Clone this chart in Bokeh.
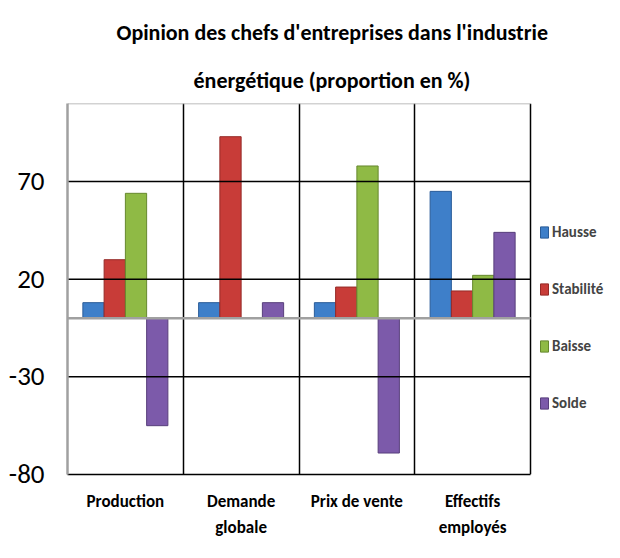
from bokeh.plotting import figure
from bokeh.models import FixedTicker, Legend, LegendItem, Title, ColumnDataSource
from bokeh.embed import file_html
from bokeh.resources import INLINE

categories = ["Production", "Demande\nglobale", "Prix de vente", "Effectifs\nemployés"]
series = ["Hausse", "Stabilité", "Baisse", "Solde"]
hausse = [8, 8, 8, 65]
stabilite = [30, 93, 16, 14]
baisse = [64, 0, 78, 22]
solde = [-55, 8, -69, 44]
y_ticks = [-80, -30, 20, 70]
y_tick_labels = ["-80", "-30", "20", "70"]
y_min, y_max = -80, 110
title_lines = ["Opinion des chefs d'entreprises dans l'industrie", "énergétique (proportion en %)"]

colors = ["#3E7FC9", "#C83C38", "#8FBA45", "#7C5AAA"]
edge = ["#2A5C98", "#952A27", "#66882E", "#583F7C"]
FONT = "Carlito, Roboto"

W, H = 604, 542
LEFT, TOP, BOTTOM = 67, 103, 68
PLOT_RIGHT = 530          # right edge of the chart area (pixels)
n = len(categories)
x_end = n * (W - LEFT) / (PLOT_RIGHT - LEFT)   # frame extends under the legend

p = figure(width=W, height=H, output_backend="svg", toolbar_location=None,
           x_range=(0, x_end), y_range=(y_min, y_max),
           min_border_left=LEFT, min_border_right=0, min_border_top=TOP, min_border_bottom=BOTTOM)
p.outline_line_color = None

values = [hausse, stabilite, baisse, solde]
bw = 0.1836
legend_items = []
for k, (name, vals) in enumerate(zip(series, values)):
    xs = [i + 0.5 + (k - 1.5) * bw for i in range(n)]
    src = ColumnDataSource(dict(x=xs, top=vals))
    r = p.vbar(x="x", top="top", bottom=0, width=bw, source=src,
               fill_color=colors[k], line_color=edge[k], line_width=1)
    legend_items.append(LegendItem(label=name, renderers=[r]))

# horizontal gridlines limited to the chart area
p.ygrid.visible = False
grid_y = [t for t in y_ticks if t > y_min]
p.segment(x0=[0] * len(grid_y), x1=[n] * len(grid_y), y0=grid_y, y1=grid_y,
          line_color="black", line_width=1.5)
# top border (grey) and zero baseline (grey)
p.segment(x0=[0], x1=[n], y0=[y_max], y1=[y_max], line_color="#A6A6A6", line_width=1.5)
p.segment(x0=[0], x1=[n], y0=[0], y1=[0], line_color="#A0A0A0", line_width=2.5)

# vertical category separators + right border
p.xgrid.ticker = FixedTicker(ticks=list(range(1, n + 1)))
p.xgrid.grid_line_color = "black"
p.xgrid.grid_line_width = 1.5

# y axis
p.yaxis.ticker = FixedTicker(ticks=y_ticks)
p.yaxis.major_label_overrides = dict(zip(y_ticks, y_tick_labels))
p.yaxis.axis_line_color = "#A0A0A0"
p.yaxis.axis_line_width = 2.5
p.yaxis.major_tick_line_color = None
p.yaxis.minor_tick_line_color = None
p.yaxis.major_tick_out = 0
p.yaxis.major_label_standoff = 23
p.yaxis.major_label_text_font = FONT
p.yaxis.major_label_text_font_size = "27px"
p.yaxis.major_label_text_color = "black"

# x axis
p.xaxis.bounds = (0, n)
p.xaxis.ticker = FixedTicker(ticks=[i + 0.5 for i in range(n)])
p.xaxis.major_label_overrides = {i + 0.5: c for i, c in enumerate(categories)}
p.xaxis.axis_line_color = "black"
p.xaxis.axis_line_width = 1.5
p.xaxis.major_tick_line_color = None
p.xaxis.minor_tick_line_color = None
p.xaxis.major_tick_out = 0
p.xaxis.major_label_standoff = 16
p.xaxis.major_label_text_font = FONT
p.xaxis.major_label_text_font_size = "17px"
p.xaxis.major_label_text_font_style = "bold"
p.xaxis.major_label_text_color = "black"
p.xaxis.major_label_text_line_height = 1.25

legend = Legend(items=legend_items, location=(472, 61), orientation="vertical",
                border_line_color=None, background_fill_alpha=0,
                padding=6, margin=0, spacing=37, glyph_width=10, glyph_height=14,
                label_standoff=3, label_text_font=FONT, label_text_font_size="15px",
                label_text_font_style="bold", label_height=20)
p.add_layout(legend, "center")

# title: p.title is the top line; the added Title sits nearer the plot
p.title.text = title_lines[0]
p.title.align = "left"
p.title.offset = 49
p.title.standoff = 18
p.title.text_font = FONT
p.title.text_font_style = "bold"
p.title.text_font_size = "22px"
p.title.text_color = "black"
p.add_layout(Title(text=title_lines[1], align="left", offset=126, standoff=20,
                   text_font=FONT, text_font_style="bold", text_font_size="22px",
                   text_color="black"), "above")

open("out.html", "w").write(file_html(p, INLINE))
